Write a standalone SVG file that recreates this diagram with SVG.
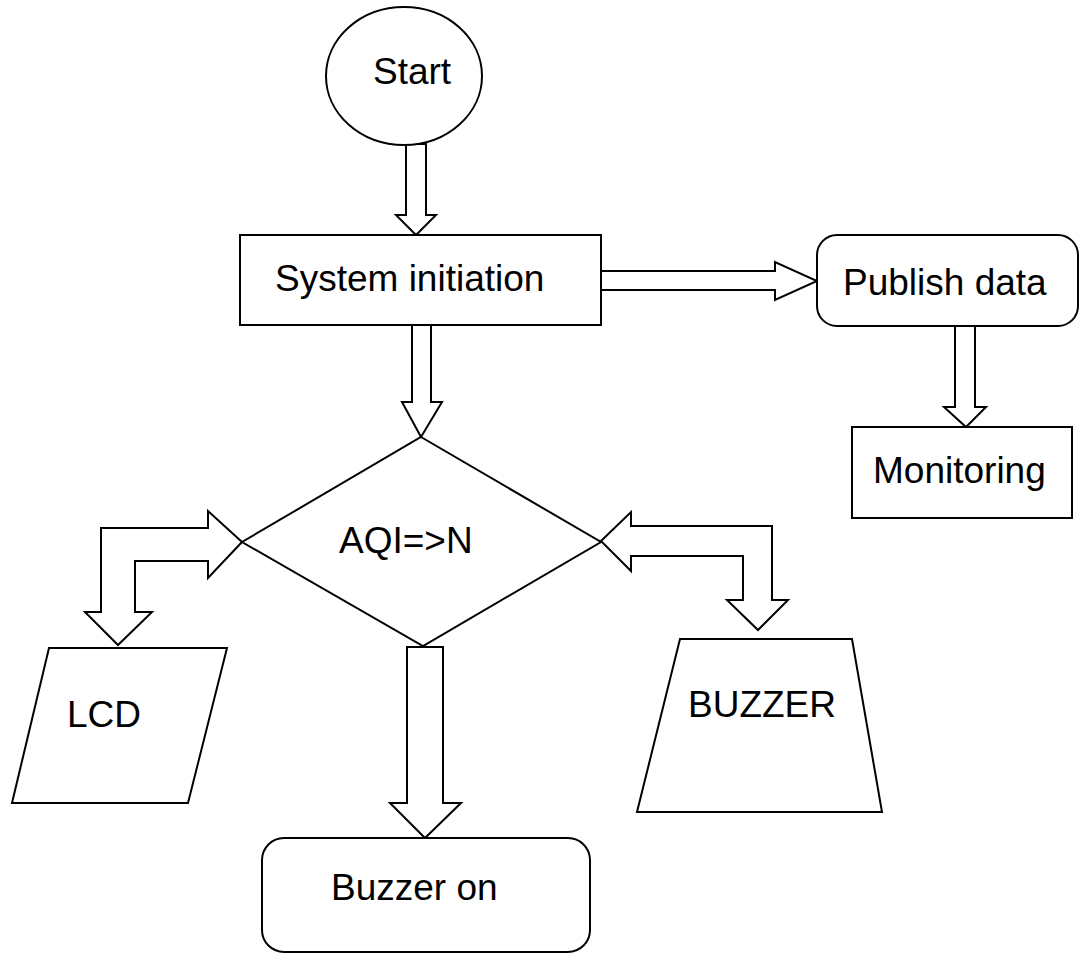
<svg xmlns="http://www.w3.org/2000/svg" width="1080" height="955" viewBox="0 0 1080 955">
  <style>
    .shape { fill: #ffffff; stroke: #000000; stroke-width: 2; stroke-linejoin: miter; }
    .arrow { fill: #ffffff; stroke: #000000; stroke-width: 2; stroke-linejoin: miter; }
    .label { font-family: "Liberation Sans", Arial, sans-serif; font-size: 37px; fill: #000000; }
  </style>
  <rect width="1080" height="955" fill="#ffffff"/>

  <!-- block arrows between the steps -->
  <g id="connectors">
    <polygon class="arrow" points="406,144 426,144 426,215 436,215 416,235 396,215 406,215"/>
    <polygon class="arrow" points="601,271 775,271 775,262 817,281 775,300 775,290 601,290"/>
    <polygon class="arrow" points="412,325 431,325 431,402 442,402 421,437 402,402 412,402"/>
    <polygon class="arrow" points="955,326 975,326 975,407 986,407 966,427 944,407 955,407"/>
    <polygon class="arrow" points="242,542 208,511 208,528 101,528 101,612 85,612 118,645 152,612 135,612 135,561 208,561 208,578"/>
    <polygon class="arrow" points="601,541 631,512 631,526 772,526 772,600 788,600 758,630 727,600 743,600 743,556 631,556 631,571"/>
    <polygon class="arrow" points="407,647 443,647 443,803 461,803 425,838 390,803 407,803"/>
  </g>

  <g id="start">
    <ellipse class="shape" cx="404" cy="76" rx="78" ry="69"/>
    <text class="label" x="373" y="84">Start</text>
  </g>

  <g id="system-initiation">
    <rect class="shape" x="240" y="235" width="361" height="90"/>
    <text class="label" x="275" y="291">System initiation</text>
  </g>

  <g id="publish-data">
    <rect class="shape" x="817" y="235" width="261" height="91" rx="20" ry="20"/>
    <text class="label" x="843" y="295">Publish data</text>
  </g>

  <g id="monitoring">
    <rect class="shape" x="852" y="427" width="220" height="91"/>
    <text class="label" x="873" y="483">Monitoring</text>
  </g>

  <g id="aqi-check">
    <polygon class="shape" points="421,437 601,542 423,646 242,542"/>
    <text class="label" x="339" y="553">AQI=&gt;N</text>
  </g>

  <g id="lcd">
    <polygon class="shape" points="49,648 227,648 188,803 12,803"/>
    <text class="label" x="67" y="727">LCD</text>
  </g>

  <g id="buzzer">
    <polygon class="shape" points="680,639 852,639 882,812 637,812"/>
    <text class="label" x="688" y="717">BUZZER</text>
  </g>

  <g id="buzzer-on">
    <rect class="shape" x="262" y="838" width="328" height="114" rx="22" ry="22"/>
    <text class="label" x="331" y="900">Buzzer on</text>
  </g>
</svg>
